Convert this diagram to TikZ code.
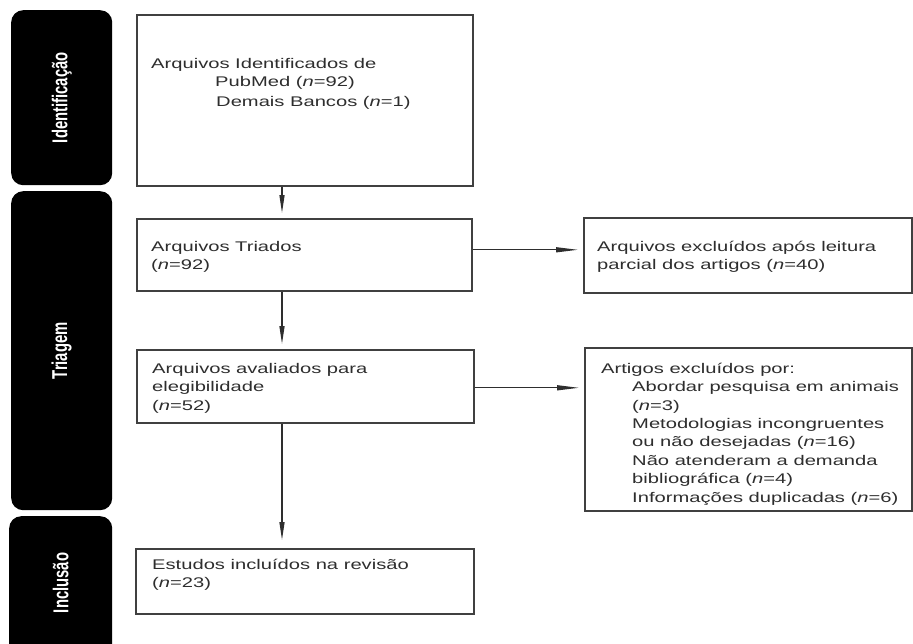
\documentclass[tikz,border=0pt]{standalone}
\usepackage{fontspec}
\setmainfont{Liberation Sans}[FakeStretch=1.44]
\newfontfamily\sidefont{Liberation Sans}[FakeStretch=0.69]
\usetikzlibrary{arrows.meta,calc}
\definecolor{ink}{gray}{0.18}
\definecolor{edge}{gray}{0.25}
\begin{document}
\begin{tikzpicture}[x=1pt,y=-1pt,
  box/.style={draw=edge, line width=1.6pt, anchor=north west, inner sep=0pt, fill=white},
  txt/.style={anchor=north west, inner sep=0pt, align=left, text=ink, font=\fontsize{14}{18.4}\selectfont},
  sidebar/.style={fill=black, rounded corners=12pt, anchor=north west, inner sep=0pt},
  sidelabel/.style={rotate=90, text=white, inner sep=0pt, font=\sidefont\bfseries\fontsize{21.5}{24}\selectfont},
  varrow/.style={draw=ink, line width=1.3pt, -{Triangle[length=18pt,width=5pt]}, shorten >=5pt},
  harrow/.style={draw=ink, line width=1.3pt, -{Triangle[length=22pt,width=5pt]}, shorten >=5pt},
]
\clip (0,0) rectangle (913,643);
\fill[white] (0,0) rectangle (913,643);

% side bars
\node[sidebar, minimum width=101pt, minimum height=175pt] (s1) at (11,10) {};
\node[sidebar, minimum width=101pt, minimum height=319pt] (s2) at (11,191) {};
\node[sidebar, minimum width=103pt, minimum height=145pt] (s3) at (9,516) {};
\node[sidelabel] (l1) at (s1.center) {Identificação};
\node[sidelabel] (l2) at (s2.center) {Triagem};
\node[sidelabel] (l3) at ($(s3.north)+(0,67)$) {Inclusão};

% boxes
\node[box, minimum width=336pt, minimum height=171pt] (b1) at (136,14) {};
\node[box, minimum width=335pt, minimum height=72pt] (b2) at (136,218) {};
\node[box, minimum width=328pt, minimum height=75pt] (b3) at (583,217) {};
\node[box, minimum width=337pt, minimum height=73pt] (b4) at (136,349) {};
\node[box, minimum width=327pt, minimum height=163pt] (b5) at (584,347) {};
\node[box, minimum width=338pt, minimum height=65pt] (b6) at (135,548) {};

% texts
\node[txt] (t1) at (151,56) {\rule{0pt}{12pt}Arquivos Identificados de\\
  \hspace*{64pt}PubMed (\textit{n}=92)\\[1pt]
  \hspace*{65pt}Demais Bancos (\textit{n}=1)};
\node[txt] (t2) at (151,239) {\rule{0pt}{12pt}Arquivos Triados\\(\textit{n}=92)};
\node[txt] (t3) at (597,239) {\rule{0pt}{12pt}Arquivos excluídos após leitura\\parcial dos artigos (\textit{n}=40)};
\node[txt] (t4) at (152,361) {\rule{0pt}{12pt}Arquivos avaliados para\\elegibilidade\\(\textit{n}=52)};
\node[txt] (t5) at (601,361) {\rule{0pt}{12pt}Artigos excluídos por:\\
  \hspace*{31pt}Abordar pesquisa em animais\\
  \hspace*{31pt}(\textit{n}=3)\\
  \hspace*{31pt}Metodologias incongruentes\\
  \hspace*{31pt}ou não desejadas (\textit{n}=16)\\
  \hspace*{31pt}Não atenderam a demanda\\
  \hspace*{31pt}bibliográfica (\textit{n}=4)\\
  \hspace*{31pt}Informações duplicadas (\textit{n}=6)};
\node[txt] (t6) at (152,557) {\rule{0pt}{12pt}Estudos incluídos na revisão\\(\textit{n}=23)};

% connectors
\coordinate (spine) at (282,0);
\draw[varrow] (b1.south -| spine) -- (b2.north -| spine);
\draw[varrow] (b2.south -| spine) -- (b4.north -| spine);
\draw[varrow] (b4.south -| spine) -- ([yshift=3pt]b6.north -| spine);
\draw[harrow] ([yshift=5pt]b2.east) -- ([yshift=5pt]b2.east -| b3.west);
\draw[harrow] ([yshift=-1.5pt]b4.east) -- ([yshift=-1.5pt]b4.east -| b5.west);
\end{tikzpicture}
\end{document}
